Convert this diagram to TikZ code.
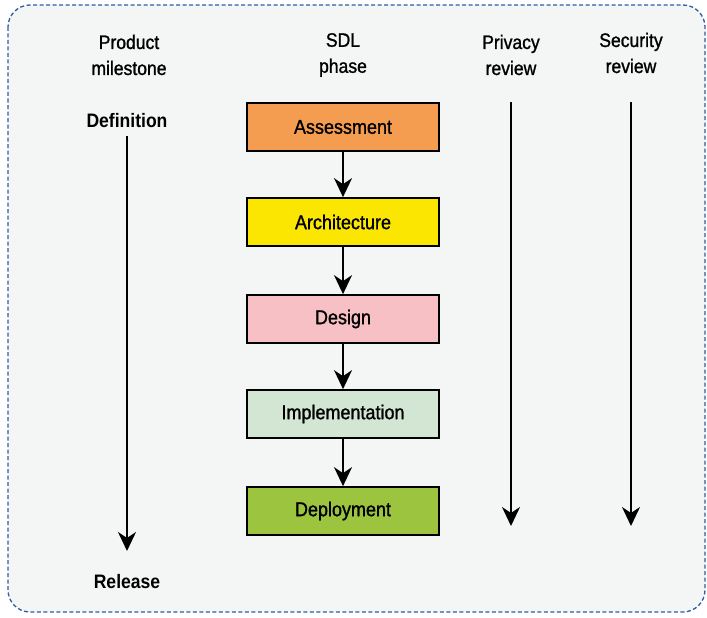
\documentclass[tikz,border=0pt]{standalone}
\usepackage{fontspec}
\setmainfont{Liberation Sans}[FakeStretch=0.9, UprightFeatures={FakeBold=1.2}]
\usetikzlibrary{arrows.meta}
\definecolor{panel}{HTML}{F4F5F5}
\definecolor{frame}{HTML}{2F5DA6}
\definecolor{cAssess}{HTML}{F49D50}
\definecolor{cArch}{HTML}{FAE600}
\definecolor{cDesign}{HTML}{F7C0C5}
\definecolor{cImpl}{HTML}{D3E6D4}
\definecolor{cDeploy}{HTML}{9DC43F}
\tikzset{
  phasebox/.style={draw=black, line width=1.7pt, minimum width=192pt, minimum height=48pt,
    inner sep=0pt, font=\fontsize{20}{24}\selectfont},
  header/.style={align=center, font=\fontsize{19.5}{26}\selectfont, inner sep=0pt},
  milestone/.style={font=\bfseries\fontsize{19.5}{22}\selectfont, inner sep=0pt},
  flow/.style={line width=2.1pt, -{Stealth[length=19pt, width=18pt, inset=6pt]}}
}
\begin{document}
\begin{tikzpicture}[x=1pt, y=-1pt]
  \useasboundingbox (0,0) rectangle (707,618);
  % dashed panel
  \draw[frame, fill=panel, line width=1.3pt, dash pattern=on 4pt off 2.5pt, rounded corners=22pt]
    (8,5) rectangle (705,612);

  % column headers
  \node[header] (hMile) at (129,55) {Product\\milestone};
  \node[header] (hSdl)  at (343,55) {SDL\\phase};
  \node[header] (hPriv) at (511,55) {Privacy\\review};
  \node[header] (hSec)  at (631,53) {Security\\review};

  % SDL phases
  \node[phasebox, fill=cAssess] (assess) at (343,127) {Assessment};
  \node[phasebox, fill=cArch]   (arch)   at (343,222) {Architecture};
  \node[phasebox, fill=cDesign] (design) at (343,319) {Design};
  \node[phasebox, fill=cImpl]   (impl)   at (343,414) {Implementation};
  \node[phasebox, fill=cDeploy] (deploy) at (343,511) {Deployment};

  \draw[flow] (assess) -- (arch);
  \draw[flow] (arch) -- (design);
  \draw[flow] (design) -- (impl);
  \draw[flow] (impl) -- (deploy);

  % product milestones
  \node[milestone] (def) at (127,121) {Definition};
  \node[milestone] (rel) at (127,582) {Release};
  \coordinate (relTop) at (127,551);
  \draw[flow] ([yshift=-8pt]def.south) -- (relTop);

  % review timelines
  \coordinate (privTop) at (511,102);
  \coordinate (privEnd) at (511,526);
  \coordinate (secTop) at (631,102);
  \coordinate (secEnd) at (631,526);
  \draw[flow] (privTop) -- (privEnd);
  \draw[flow] (secTop) -- (secEnd);
\end{tikzpicture}
\end{document}
